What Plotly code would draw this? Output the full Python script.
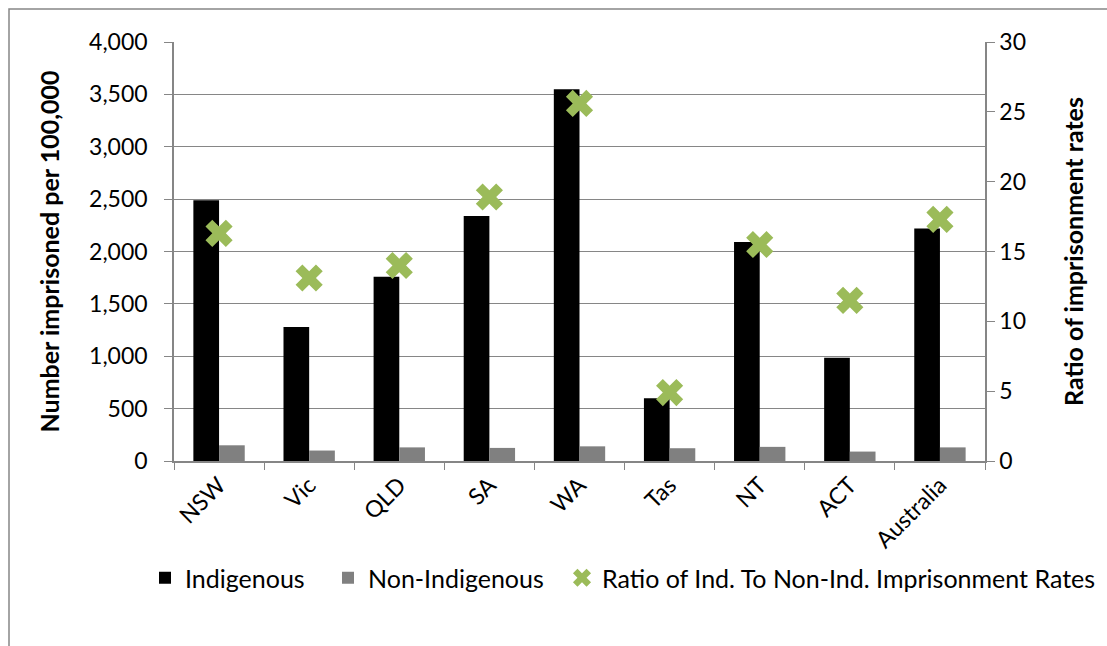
import plotly.graph_objects as go

# Imprisonment rates per 100,000 adults by jurisdiction
regions = ["NSW", "Vic", "QLD", "SA", "WA", "Tas", "NT", "ACT", "Australia"]
indigenous = [2490, 1280, 1760, 2340, 3550, 600, 2090, 985, 2220]
non_indigenous = [150, 100, 130, 125, 140, 122, 135, 90, 130]
ratio = [16.3, 13.1, 14.0, 18.9, 25.6, 4.9, 15.5, 11.5, 17.3]

left_ticks = [0, 500, 1000, 1500, 2000, 2500, 3000, 3500, 4000]
right_ticks = [0, 5, 10, 15, 20, 25, 30]

FONT = "Lato, Liberation Sans, sans-serif"
AXIS_GREY = "#868686"

fig = go.Figure()
fig.add_trace(go.Bar(x=regions, y=indigenous, name="Indigenous",
                     legend="legend",
                     marker=dict(color="#000000", line=dict(width=0))))
fig.add_trace(go.Bar(x=regions, y=non_indigenous, name="Non-Indigenous",
                     legend="legend2",
                     marker=dict(color="#808080", line=dict(width=0))))
fig.add_trace(go.Scatter(x=regions, y=ratio, yaxis="y2", mode="markers",
                         name="Ratio of Ind. To Non-Ind. Imprisonment Rates",
                         legend="legend3",
                         marker=dict(symbol="x", size=24, color="#9BBB59",
                                     line=dict(width=0))))

W, H = 1107, 646
ml, mr, mt, mb = 174, W - 985, 42, H - 461
pw, ph = W - ml - mr, H - mt - mb


def legend_at(left_px):
    return dict(orientation="h", x=(left_px - ml) / pw, xanchor="left",
                y=(461 - 578) / ph, yanchor="middle",
                font=dict(family=FONT, size=25), itemwidth=30,
                bgcolor="rgba(0,0,0,0)")


fig.update_layout(
    width=W, height=H,
    margin=dict(l=ml, r=mr, t=mt, b=mb, autoexpand=False),
    paper_bgcolor="white", plot_bgcolor="white",
    font=dict(family=FONT, size=23, color="#000000"),
    barmode="group", bargap=0.43, bargroupgap=0,
    showlegend=True,
    legend=legend_at(145),
    legend2=legend_at(328),
    legend3=legend_at(562),
    xaxis=dict(range=[-0.5, len(regions) - 0.5], tickangle=-45,
               tickson="boundaries", ticks="outside", automargin=False,
               ticklen=7, tickcolor=AXIS_GREY, showline=True,
               linecolor=AXIS_GREY, linewidth=1.5, showgrid=False,
               tickfont=dict(family=FONT, size=23)),
    yaxis=dict(range=[0, 4000], tickvals=left_ticks, tickformat=",",
               ticks="outside", ticklen=8, tickcolor=AXIS_GREY,
               ticklabelstandoff=12, automargin=False,
               showline=True, linecolor=AXIS_GREY, linewidth=1.5,
               showgrid=True, gridcolor=AXIS_GREY, gridwidth=1,
               zeroline=False, tickfont=dict(family=FONT, size=23),
               title=dict(text="<b>Number imprisoned per 100,000</b>",
                          font=dict(family=FONT, size=25), standoff=22)),
    yaxis2=dict(range=[0, 30], tickvals=right_ticks, overlaying="y",
                side="right", ticks="outside", ticklen=8, automargin=False,
                tickcolor=AXIS_GREY, showline=True, linecolor=AXIS_GREY,
                linewidth=1.5, showgrid=False, zeroline=False,
                tickfont=dict(family=FONT, size=23),
                title=dict(text="<b>Ratio of imprisonment rates</b>",
                           font=dict(family=FONT, size=25), standoff=40)),
)

# Chart-area border
fig.add_shape(type="rect", xref="paper", yref="paper",
              x0=(9 - ml) / pw, x1=(W + 20 - ml) / pw,
              y0=(461 - H - 20) / ph, y1=(461 - 9) / ph,
              line=dict(color=AXIS_GREY, width=1.5), fillcolor="rgba(0,0,0,0)",
              layer="below")

fig.write_html("out.html")
